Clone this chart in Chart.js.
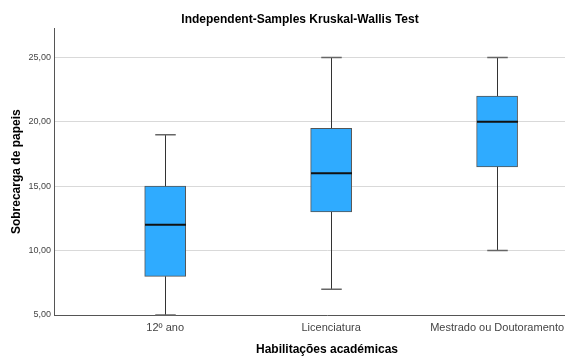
<!DOCTYPE html>
<html lang="pt">
<head>
<meta charset="utf-8">
<title>Sobrecarga de papeis</title>
<script src="https://cdn.jsdelivr.net/npm/chart.js@4.4.1/dist/chart.umd.min.js"></script>
<style>
    html, body { margin: 0; padding: 0; background: #fff; overflow: hidden; }
    #wrap { width: 565px; height: 356px; overflow: hidden; }
</style>
</head>
<body>
<div id="wrap"><canvas id="grafico" width="600" height="356"></canvas></div>
<script>
// Habilitações académicas vs. sobrecarga de papeis (resumo das caixas)
const categorias = ['12º ano', 'Licenciatura', 'Mestrado ou Doutoramento'];
const minimos = [5, 7, 10];
const q1 = [8, 13, 16.5];
const medianas = [12, 16, 20];
const q3 = [15, 19.5, 22];
const maximos = [19, 25, 25];
const ticksY = [5, 10, 15, 20, 25];

const fonte = "'Liberation Sans', Arial, sans-serif";

// bigodes e mediana desenhados por cima das caixas
const bigodes = {
    id: 'bigodes',
    afterDatasetsDraw(chart) {
        const ctx = chart.ctx;
        const x = chart.scales.x;
        const y = chart.scales.y;
        const meta = chart.getDatasetMeta(0);
        ctx.save();
        categorias.forEach((c, i) => {
            const cx = Math.round(x.getPixelForValue(i)) + 0.5;
            const meia = meta.data[i].width / 2;
            const cap = meia / 2;

            ctx.strokeStyle = '#333';
            ctx.lineWidth = 1;
            ctx.beginPath();
            ctx.moveTo(cx, y.getPixelForValue(q3[i]));
            ctx.lineTo(cx, y.getPixelForValue(maximos[i]));
            ctx.moveTo(cx, y.getPixelForValue(q1[i]));
            ctx.lineTo(cx, y.getPixelForValue(minimos[i]));
            ctx.stroke();

            ctx.strokeStyle = '#666';
            ctx.lineWidth = 1.5;
            ctx.beginPath();
            [minimos[i], maximos[i]].forEach(v => {
                const py = y.getPixelForValue(v);
                ctx.moveTo(cx - cap, py);
                ctx.lineTo(cx + cap, py);
            });
            ctx.stroke();

            const pm = y.getPixelForValue(medianas[i]);
            ctx.strokeStyle = '#111';
            ctx.lineWidth = 2;
            ctx.beginPath();
            ctx.moveTo(cx - meia, pm);
            ctx.lineTo(cx + meia, pm);
            ctx.stroke();
        });
        ctx.restore();
    }
};

const fundoBranco = {
    id: 'fundoBranco',
    beforeDraw(chart) {
        const ctx = chart.ctx;
        ctx.save();
        ctx.fillStyle = '#fff';
        ctx.fillRect(0, 0, chart.width, chart.height);
        ctx.restore();
    }
};

new Chart(document.getElementById('grafico'), {
    type: 'bar',
    data: {
        datasets: [{
            data: categorias.map((c, i) => ({ x: i, y: [q1[i], q3[i]] })),
            backgroundColor: '#2fabff',
            borderColor: '#555',
            borderWidth: 1,
            borderSkipped: false,
            barThickness: 41
        }]
    },
    options: {
        responsive: false,
        devicePixelRatio: 1,
        animation: false,
        layout: { padding: 0 },
        plugins: {
            legend: { display: false },
            tooltip: { enabled: false },
            title: {
                display: true,
                text: 'Independent-Samples Kruskal-Wallis Test',
                color: '#000',
                font: { family: fonte, size: 12, weight: 'bold' },
                padding: { top: 12, bottom: 2 }
            }
        },
        scales: {
            x: {
                type: 'linear',
                min: -0.67,
                max: 2.62,
                offset: false,
                afterBuildTicks: s => { s.ticks = categorias.map((c, i) => ({ value: i })); },
                afterFit: s => { s.height = 41; },
                ticks: {
                    callback: v => categorias[v],
                    color: '#444',
                    font: { family: fonte, size: 11 },
                    padding: 6,
                    maxRotation: 0,
                    autoSkip: false
                },
                grid: { display: false, drawTicks: false },
                border: { display: true, color: '#555', width: 1 },
                title: {
                    display: true,
                    text: 'Habilitações académicas',
                    color: '#000',
                    font: { family: fonte, size: 12, weight: 'bold', lineHeight: 1 },
                    padding: { top: 0, bottom: 0 }
                }
            },
            y: {
                min: 5,
                max: 27.25,
                afterBuildTicks: s => { s.ticks = ticksY.map(v => ({ value: v })); },
                afterFit: s => { s.width = 54; },
                ticks: {
                    callback: v => v.toFixed(2).replace('.', ','),
                    color: '#444',
                    font: { family: fonte, size: 9 },
                    padding: 3
                },
                grid: { color: '#d9d9d9', lineWidth: 1, drawTicks: false },
                border: { display: true, color: '#555', width: 1 },
                title: {
                    display: true,
                    text: 'Sobrecarga de papeis',
                    color: '#000',
                    font: { family: fonte, size: 12, weight: 'bold' },
                    padding: { top: 9, bottom: 0 }
                }
            }
        }
    },
    plugins: [fundoBranco, bigodes]
});
</script>
</body>
</html>
